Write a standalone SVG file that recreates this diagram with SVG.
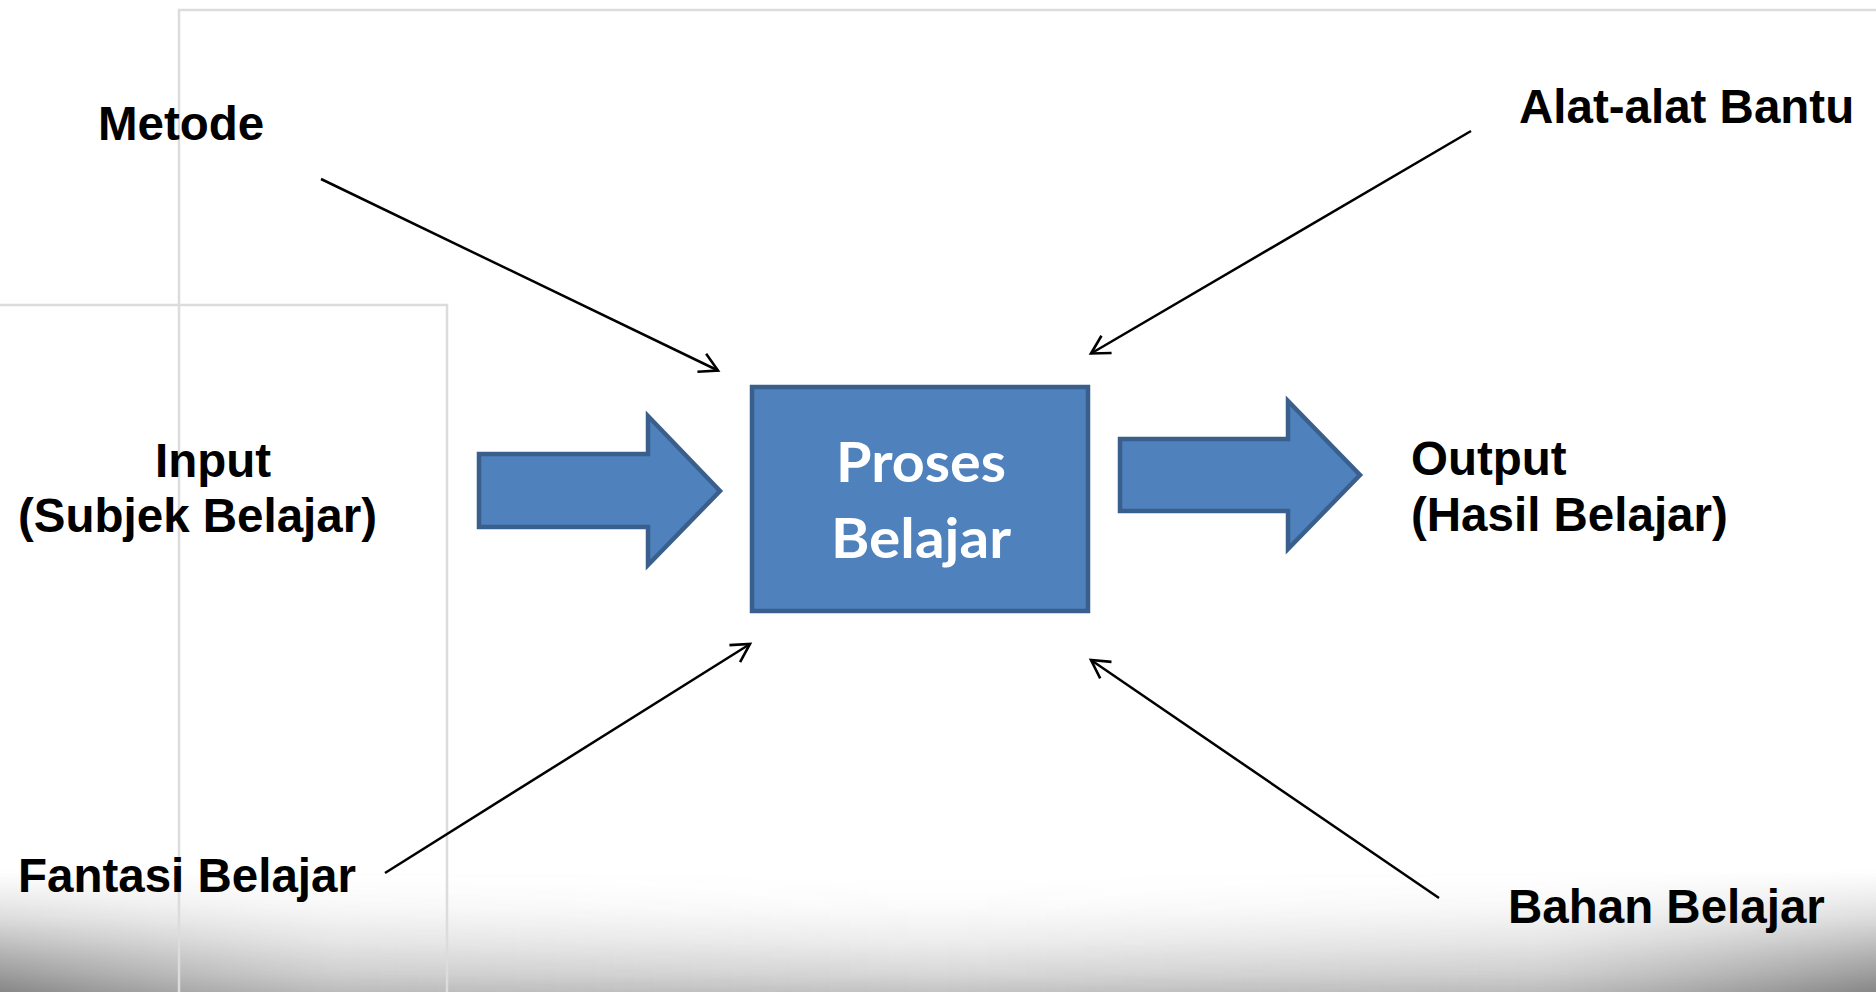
<svg xmlns="http://www.w3.org/2000/svg" width="1876" height="992" viewBox="0 0 1876 992">
  <style>
    .lbl { font-family: "Liberation Sans", Arial, sans-serif; font-weight: bold; font-size: 47.5px; fill: #000000; }
    .inner { font-family: Lato, "Open Sans", sans-serif; font-weight: bold; font-size: 55px; fill: #ffffff; }
    .shape { fill: #4F81BD; stroke: #3A5F8D; stroke-width: 4.5; stroke-linejoin: miter; }
    .conn { fill: none; stroke: #000000; stroke-width: 2.5; }
    .frame { fill: none; stroke: #dcdcdc; stroke-width: 2.5; }
  </style>
  <defs>
    <marker id="open" markerUnits="userSpaceOnUse" viewBox="-25 -15 30 30" refX="0" refY="0" markerWidth="30" markerHeight="30" orient="auto">
      <path d="M-18,-10 L0,0 L-18,10" fill="none" stroke="#000" stroke-width="2.6"/>
    </marker>
    <linearGradient id="shadeV" x1="0" y1="0" x2="0" y2="1">
      <stop offset="0" stop-color="#ffffff" stop-opacity="0"/>
      <stop offset="0.3" stop-color="#fafafa" stop-opacity="0.8"/>
      <stop offset="0.6" stop-color="#ececec" stop-opacity="1"/>
      <stop offset="0.85" stop-color="#d8d8d8" stop-opacity="1"/>
      <stop offset="1" stop-color="#c4c4c4" stop-opacity="1"/>
    </linearGradient>
    <linearGradient id="shadeH" x1="0" y1="0" x2="1" y2="0">
      <stop offset="0" stop-color="#555555" stop-opacity="0.55"/>
      <stop offset="0.18" stop-color="#808080" stop-opacity="0.12"/>
      <stop offset="0.5" stop-color="#808080" stop-opacity="0"/>
      <stop offset="0.82" stop-color="#808080" stop-opacity="0.12"/>
      <stop offset="1" stop-color="#555555" stop-opacity="0.55"/>
    </linearGradient>
    <linearGradient id="fadeV" x1="0" y1="0" x2="0" y2="1">
      <stop offset="0" stop-color="#fff" stop-opacity="0"/>
      <stop offset="0.4" stop-color="#fff" stop-opacity="0.3"/>
      <stop offset="1" stop-color="#fff" stop-opacity="1"/>
    </linearGradient>
    <mask id="bottomMask">
      <rect x="0" y="870" width="1876" height="122" fill="url(#fadeV)"/>
    </mask>
  </defs>

  <rect x="0" y="0" width="1876" height="992" fill="#ffffff"/>

  <g id="bottom-shade">
    <rect x="0" y="870" width="1876" height="122" fill="url(#shadeV)"/>
    <rect x="0" y="870" width="1876" height="122" fill="url(#shadeH)" mask="url(#bottomMask)"/>
  </g>

  <g id="frames">
    <path class="frame" d="M179,992 L179,10 L1876,10"/>
    <path class="frame" d="M0,305 L447,305 L447,992"/>
  </g>

  <g id="connectors">
    <line class="conn" x1="321" y1="179" x2="718" y2="370.5" marker-end="url(#open)"/>
    <line class="conn" x1="1471" y1="131" x2="1091" y2="353.5" marker-end="url(#open)"/>
    <line class="conn" x1="385" y1="873" x2="750" y2="644" marker-end="url(#open)"/>
    <line class="conn" x1="1439" y1="898" x2="1091" y2="660" marker-end="url(#open)"/>
  </g>

  <g id="node-input-arrow">
    <polygon class="shape" points="479,454 648,454 648,416 720,491 648,565 648,527 479,527"/>
  </g>

  <g id="node-output-arrow">
    <polygon class="shape" points="1120,439 1288,439 1288,401 1360,475 1288,549 1288,511 1120,511"/>
  </g>

  <g id="node-proses">
    <rect class="shape" x="752" y="387" width="336" height="224"/>
    <text class="inner" x="921" y="482" text-anchor="middle" textLength="170" lengthAdjust="spacingAndGlyphs">Proses</text>
    <text class="inner" x="921" y="558" text-anchor="middle" textLength="180" lengthAdjust="spacingAndGlyphs">Belajar</text>
  </g>

  <g id="node-metode">
    <text class="lbl" x="98" y="140">Metode</text>
  </g>

  <g id="node-alat">
    <text class="lbl" x="1519" y="123">Alat-alat Bantu</text>
  </g>

  <g id="node-input">
    <text class="lbl" x="155" y="477">Input</text>
    <text class="lbl" x="18" y="532">(Subjek Belajar)</text>
  </g>

  <g id="node-output">
    <text class="lbl" x="1411" y="475">Output</text>
    <text class="lbl" x="1411" y="531">(Hasil Belajar)</text>
  </g>

  <g id="node-fantasi">
    <text class="lbl" x="18" y="892">Fantasi Belajar</text>
  </g>

  <g id="node-bahan">
    <text class="lbl" x="1508" y="923">Bahan Belajar</text>
  </g>
</svg>
